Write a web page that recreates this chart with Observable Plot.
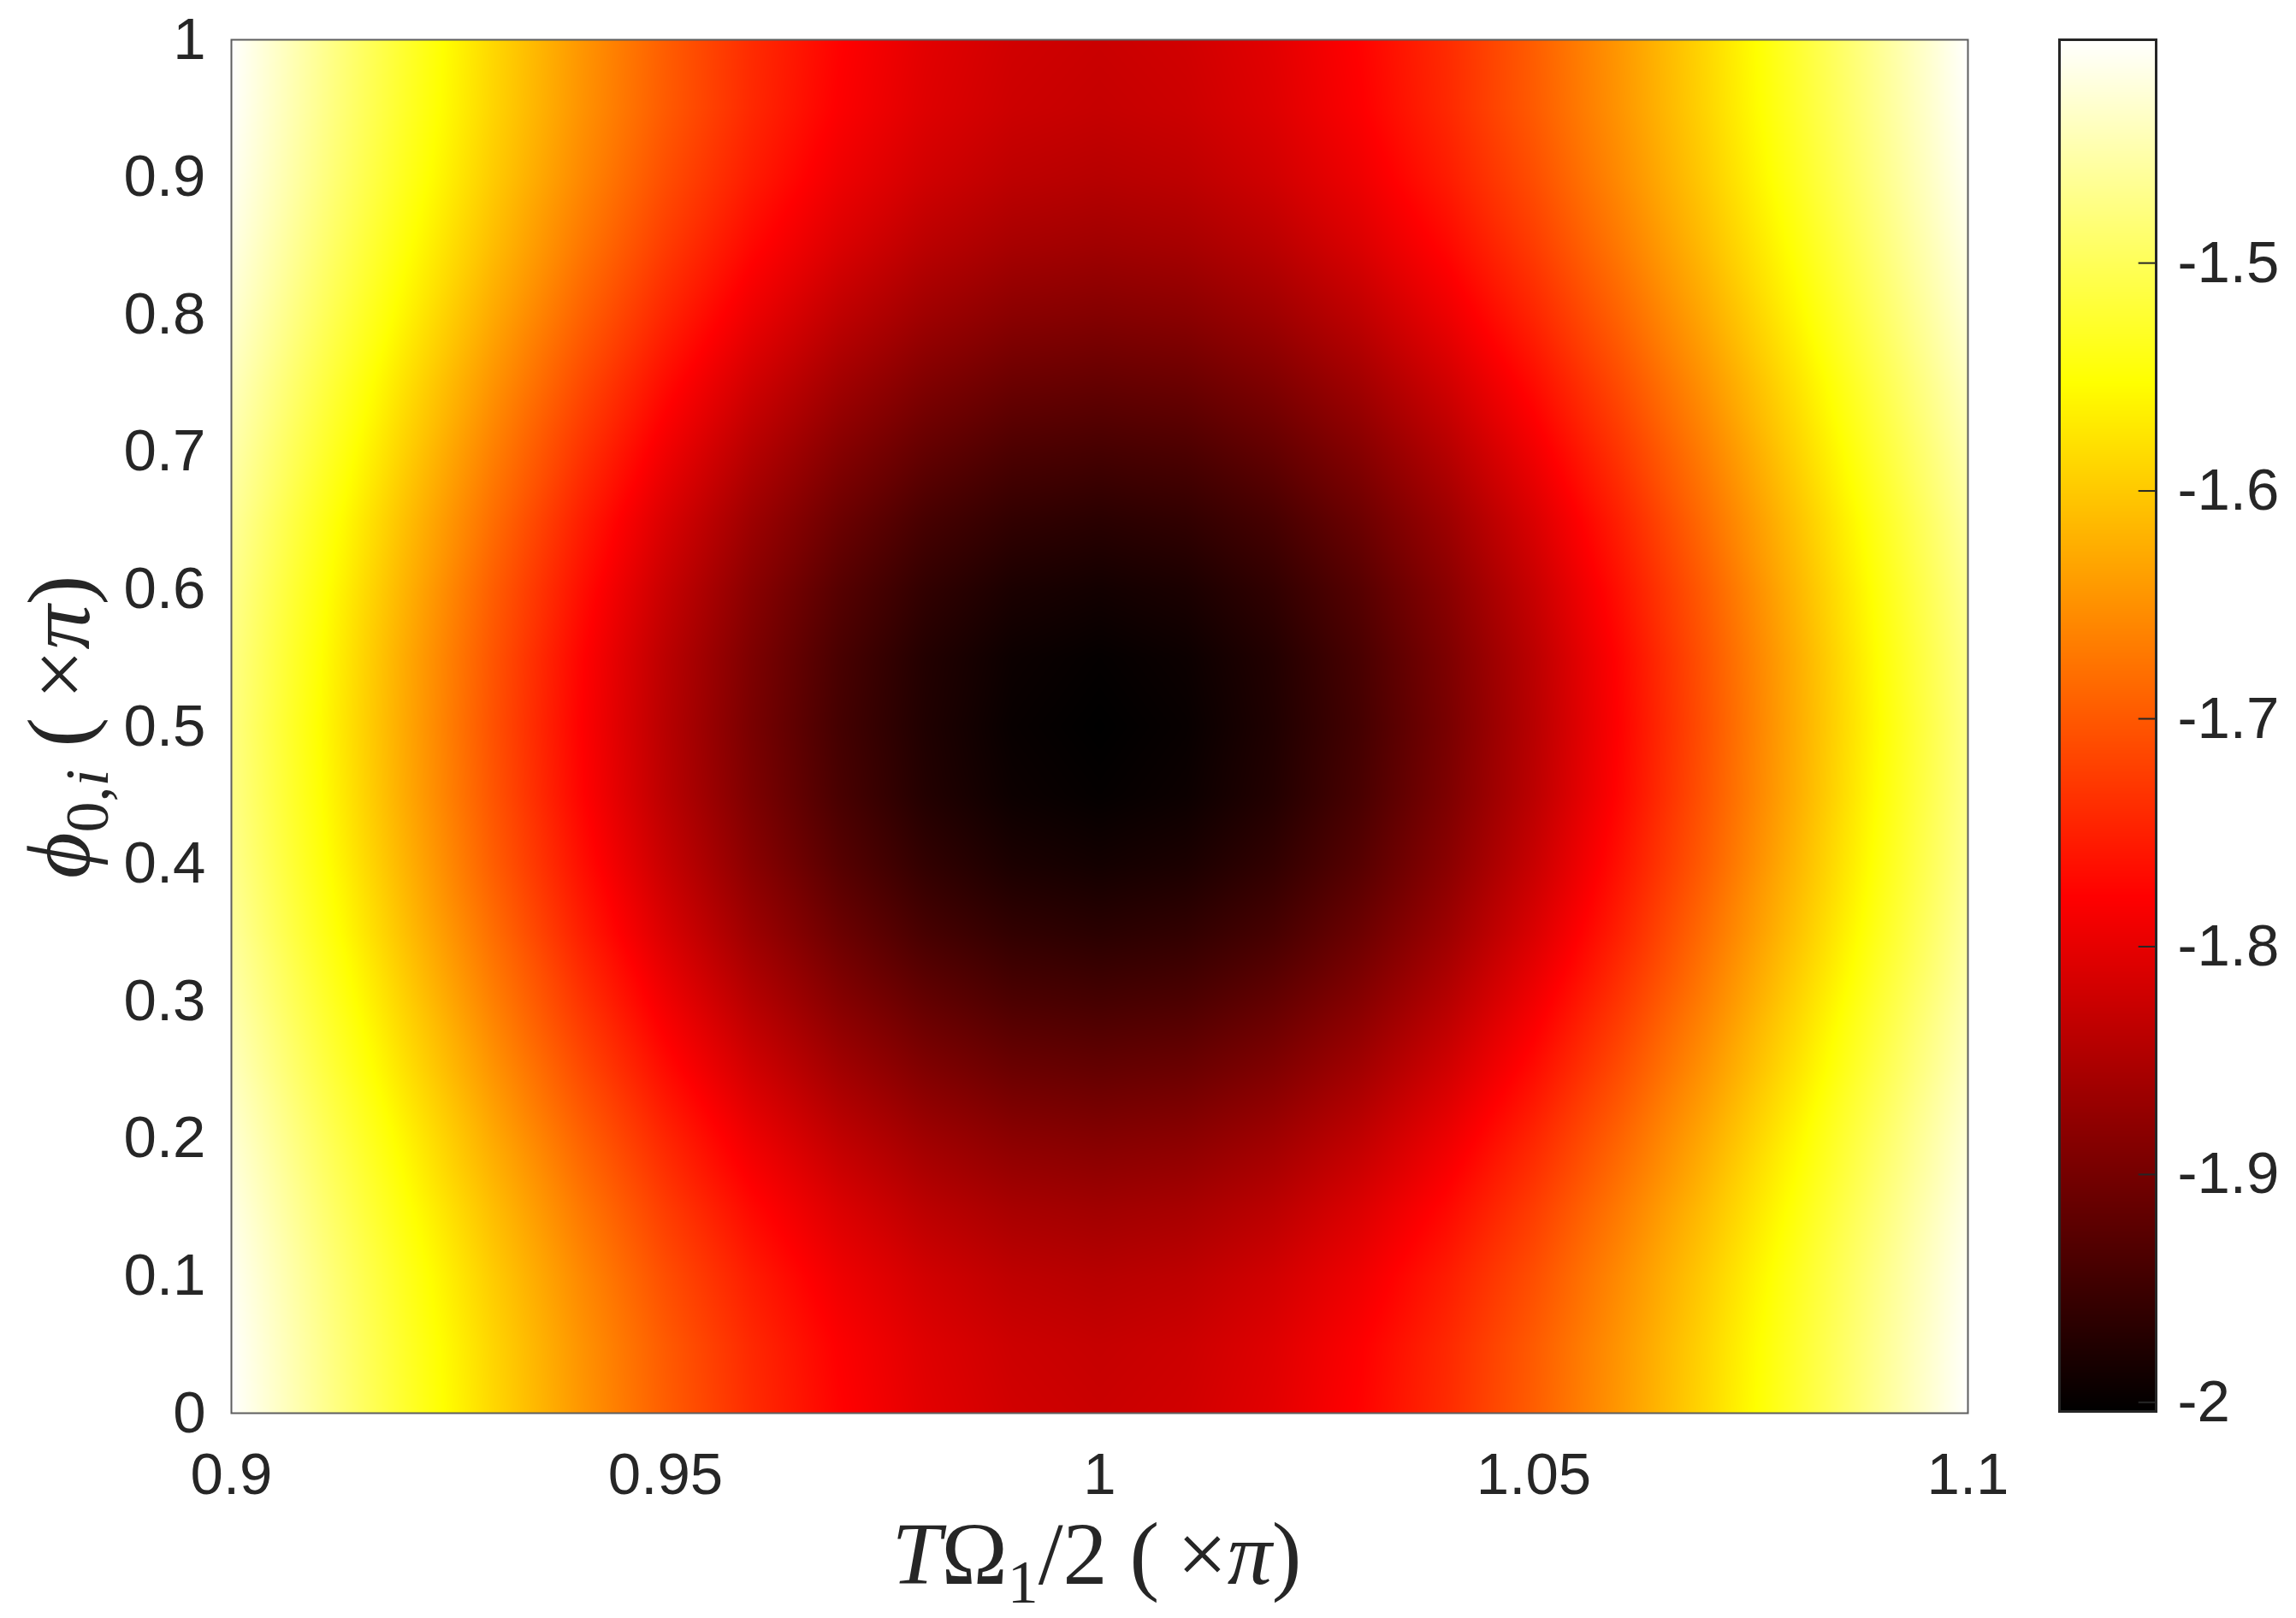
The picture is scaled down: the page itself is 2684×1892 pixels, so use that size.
<!DOCTYPE html>
<html>
<head>
<meta charset="utf-8">
<script src="https://cdn.jsdelivr.net/npm/d3@7"></script>
<script src="https://cdn.jsdelivr.net/npm/@observablehq/plot@0.6"></script>
<style>
  body { margin: 0; background: #ffffff; }
  #wrap { position: relative; width: 2684px; height: 1892px; overflow: hidden; background: #ffffff; }
  #wrap svg { position: absolute; left: 0; top: 0; }
</style>
</head>
<body>
<div id="wrap"></div>
<script>
// ---- data ----
const xValues = [0.9, 0.91, 0.92, 0.93, 0.94, 0.95, 0.96, 0.97, 0.98, 0.99, 1.0,
                 1.01, 1.02, 1.03, 1.04, 1.05, 1.06, 1.07, 1.08, 1.09, 1.1];
const yValues = [0, 0.05, 0.1, 0.15, 0.2, 0.25, 0.3, 0.35, 0.4, 0.45, 0.5,
                 0.55, 0.6, 0.65, 0.7, 0.75, 0.8, 0.85, 0.9, 0.95, 1];
// one row per y value (bottom to top), one column per x value
const fieldRows = [
  [-1.402,-1.463,-1.525,-1.586,-1.643,-1.695,-1.740,-1.776,-1.803,-1.819,-1.825,-1.819,-1.803,-1.776,-1.740,-1.695,-1.643,-1.586,-1.525,-1.463,-1.402],
  [-1.404,-1.466,-1.528,-1.589,-1.646,-1.698,-1.743,-1.780,-1.807,-1.823,-1.829,-1.823,-1.807,-1.780,-1.743,-1.698,-1.646,-1.589,-1.528,-1.466,-1.404],
  [-1.409,-1.472,-1.535,-1.597,-1.655,-1.709,-1.754,-1.792,-1.819,-1.836,-1.842,-1.836,-1.819,-1.792,-1.754,-1.709,-1.655,-1.597,-1.535,-1.472,-1.409],
  [-1.417,-1.482,-1.547,-1.610,-1.670,-1.725,-1.772,-1.810,-1.839,-1.856,-1.862,-1.856,-1.839,-1.810,-1.772,-1.725,-1.670,-1.610,-1.547,-1.482,-1.417],
  [-1.427,-1.494,-1.561,-1.627,-1.689,-1.745,-1.794,-1.834,-1.863,-1.881,-1.887,-1.881,-1.863,-1.834,-1.794,-1.745,-1.689,-1.627,-1.561,-1.494,-1.427],
  [-1.439,-1.508,-1.578,-1.646,-1.710,-1.768,-1.819,-1.860,-1.890,-1.909,-1.915,-1.909,-1.890,-1.860,-1.819,-1.768,-1.710,-1.646,-1.578,-1.508,-1.439],
  [-1.450,-1.521,-1.593,-1.664,-1.730,-1.790,-1.843,-1.885,-1.916,-1.936,-1.942,-1.936,-1.916,-1.885,-1.843,-1.790,-1.730,-1.664,-1.593,-1.521,-1.450],
  [-1.460,-1.534,-1.608,-1.680,-1.749,-1.811,-1.865,-1.908,-1.941,-1.960,-1.967,-1.960,-1.941,-1.908,-1.865,-1.811,-1.749,-1.680,-1.608,-1.534,-1.460],
  [-1.468,-1.543,-1.619,-1.694,-1.763,-1.827,-1.882,-1.927,-1.960,-1.980,-1.987,-1.980,-1.960,-1.927,-1.882,-1.827,-1.763,-1.694,-1.619,-1.543,-1.468],
  [-1.473,-1.549,-1.627,-1.702,-1.773,-1.838,-1.893,-1.939,-1.973,-1.993,-2.000,-1.993,-1.973,-1.939,-1.893,-1.838,-1.773,-1.702,-1.627,-1.549,-1.473],
  [-1.475,-1.552,-1.629,-1.705,-1.776,-1.841,-1.897,-1.943,-1.976,-1.997,-2.004,-1.997,-1.976,-1.943,-1.897,-1.841,-1.776,-1.705,-1.629,-1.552,-1.475],
  [-1.473,-1.549,-1.627,-1.702,-1.773,-1.838,-1.893,-1.939,-1.973,-1.993,-2.000,-1.993,-1.973,-1.939,-1.893,-1.838,-1.773,-1.702,-1.627,-1.549,-1.473],
  [-1.468,-1.543,-1.619,-1.694,-1.763,-1.827,-1.882,-1.927,-1.960,-1.980,-1.987,-1.980,-1.960,-1.927,-1.882,-1.827,-1.763,-1.694,-1.619,-1.543,-1.468],
  [-1.460,-1.534,-1.608,-1.680,-1.749,-1.811,-1.865,-1.908,-1.941,-1.960,-1.967,-1.960,-1.941,-1.908,-1.865,-1.811,-1.749,-1.680,-1.608,-1.534,-1.460],
  [-1.450,-1.521,-1.593,-1.664,-1.730,-1.790,-1.843,-1.885,-1.916,-1.936,-1.942,-1.936,-1.916,-1.885,-1.843,-1.790,-1.730,-1.664,-1.593,-1.521,-1.450],
  [-1.439,-1.508,-1.578,-1.646,-1.710,-1.768,-1.819,-1.860,-1.890,-1.909,-1.915,-1.909,-1.890,-1.860,-1.819,-1.768,-1.710,-1.646,-1.578,-1.508,-1.439],
  [-1.427,-1.494,-1.561,-1.627,-1.689,-1.745,-1.794,-1.834,-1.863,-1.881,-1.887,-1.881,-1.863,-1.834,-1.794,-1.745,-1.689,-1.627,-1.561,-1.494,-1.427],
  [-1.417,-1.482,-1.547,-1.610,-1.670,-1.725,-1.772,-1.810,-1.839,-1.856,-1.862,-1.856,-1.839,-1.810,-1.772,-1.725,-1.670,-1.610,-1.547,-1.482,-1.417],
  [-1.409,-1.472,-1.535,-1.597,-1.655,-1.709,-1.754,-1.792,-1.819,-1.836,-1.842,-1.836,-1.819,-1.792,-1.754,-1.709,-1.655,-1.597,-1.535,-1.472,-1.409],
  [-1.404,-1.466,-1.528,-1.589,-1.646,-1.698,-1.743,-1.780,-1.807,-1.823,-1.829,-1.823,-1.807,-1.780,-1.743,-1.698,-1.646,-1.589,-1.528,-1.466,-1.404],
  [-1.402,-1.463,-1.525,-1.586,-1.643,-1.695,-1.740,-1.776,-1.803,-1.819,-1.825,-1.819,-1.803,-1.776,-1.740,-1.695,-1.643,-1.586,-1.525,-1.463,-1.402]
];
const xTicks = [0.9, 0.95, 1, 1.05, 1.1];
const yTicks = [0, 0.1, 0.2, 0.3, 0.4, 0.5, 0.6, 0.7, 0.8, 0.9, 1];
const colorbarTicks = [-2, -1.9, -1.8, -1.7, -1.6, -1.5];

// ---- table for the library ----
const points = [];
yValues.forEach((y, i) => xValues.forEach((x, j) => points.push({x, y, v: fieldRows[i][j]})));
const colorDomain = d3.extent(points, d => d.v);

// MATLAB-style "hot" colour map
function hot(t) {
  const c = v => Math.round(255 * Math.max(0, Math.min(1, v)));
  return `rgb(${c(t * 8 / 3)},${c(t * 8 / 3 - 1)},${c(t * 4 - 3)})`;
}

const W = 2684, H = 1892;
const textColor = "#262626";
const tickFont = 69;
const baseStyle = {fontFamily: "'Liberation Sans', Arial, Helvetica, sans-serif", fontSize: tickFont + "px", color: textColor, background: "transparent", overflow: "visible"};

const main = Plot.plot({
  width: W, height: H,
  marginLeft: 270, marginRight: 384, marginTop: 46, marginBottom: 240,
  x: {domain: [0.9, 1.1]},
  y: {domain: [0, 1]},
  color: {type: "linear", domain: colorDomain, interpolate: hot},
  style: baseStyle,
  marks: [
    Plot.raster(points, {x: "x", y: "y", fill: "v", interpolate: "barycentric", x1: 0.9, x2: 1.1, y1: 0, y2: 1}),
    Plot.frame({stroke: "#5e5e5e", strokeWidth: 2}),
    Plot.axisX({ticks: xTicks, tickFormat: d => String(d), tickSize: 0, tickPadding: 45, fontSize: tickFont, label: null}),
    Plot.axisY({ticks: yTicks, tickFormat: d => String(d), tickSize: 0, tickPadding: 30, fontSize: tickFont, label: null})
  ]
});

const colorbar = Plot.plot({
  width: W, height: H,
  marginLeft: 2407, marginRight: 164, marginTop: 46, marginBottom: 242,
  x: {domain: [0, 1], axis: null},
  y: {domain: colorDomain},
  color: {type: "linear", domain: colorDomain, interpolate: hot},
  style: baseStyle,
  marks: [
    Plot.raster({fill: (x, y) => y, x1: 0, x2: 1, y1: colorDomain[0], y2: colorDomain[1], pixelSize: 1}),
    Plot.ruleY(colorbarTicks, {x1: 0.82, x2: 1, stroke: textColor, strokeWidth: 2}),
    Plot.frame({stroke: textColor, strokeWidth: 3}),
    Plot.axisY({anchor: "right", ticks: colorbarTicks, tickFormat: d => String(d), tickSize: 0, tickPadding: 25, fontSize: tickFont, label: null})
  ]
});

const wrap = document.getElementById("wrap");
wrap.appendChild(main);
wrap.appendChild(colorbar);

// ---- axis titles (LaTeX-like) ----
const svg = d3.select(main);
const serif = "'Liberation Serif', 'DejaVu Serif', 'Times New Roman', serif";
const titleSize = 104, subSize = 72, subShift = 22;
const xt = svg.append("text")
  .attr("x", 1282).attr("y", 1852)
  .attr("text-anchor", "middle")
  .attr("font-family", serif).attr("font-size", titleSize).attr("fill", textColor);
xt.append("tspan").attr("font-style", "italic").text("T");
xt.append("tspan").text("Ω");
xt.append("tspan").attr("font-size", subSize).attr("dy", subShift).text("1");
xt.append("tspan").attr("dy", -subShift).text("/2 (\u2009×");
xt.append("tspan").attr("font-style", "italic").text("π");
xt.append("tspan").text(")");

const yt = svg.append("text")
  .attr("transform", "translate(104,850) rotate(-90)")
  .attr("text-anchor", "middle")
  .attr("font-family", serif).attr("font-size", titleSize).attr("fill", textColor);
yt.append("tspan").attr("font-style", "italic").text("\u03D5");
yt.append("tspan").attr("font-size", subSize).attr("dy", subShift).text("0,");
yt.append("tspan").attr("font-size", subSize).attr("font-style", "italic").text("i");
yt.append("tspan").attr("dy", -subShift).text(" (\u2009×");
yt.append("tspan").attr("font-style", "italic").text("π");
yt.append("tspan").text(")");
</script>
</body>
</html>
